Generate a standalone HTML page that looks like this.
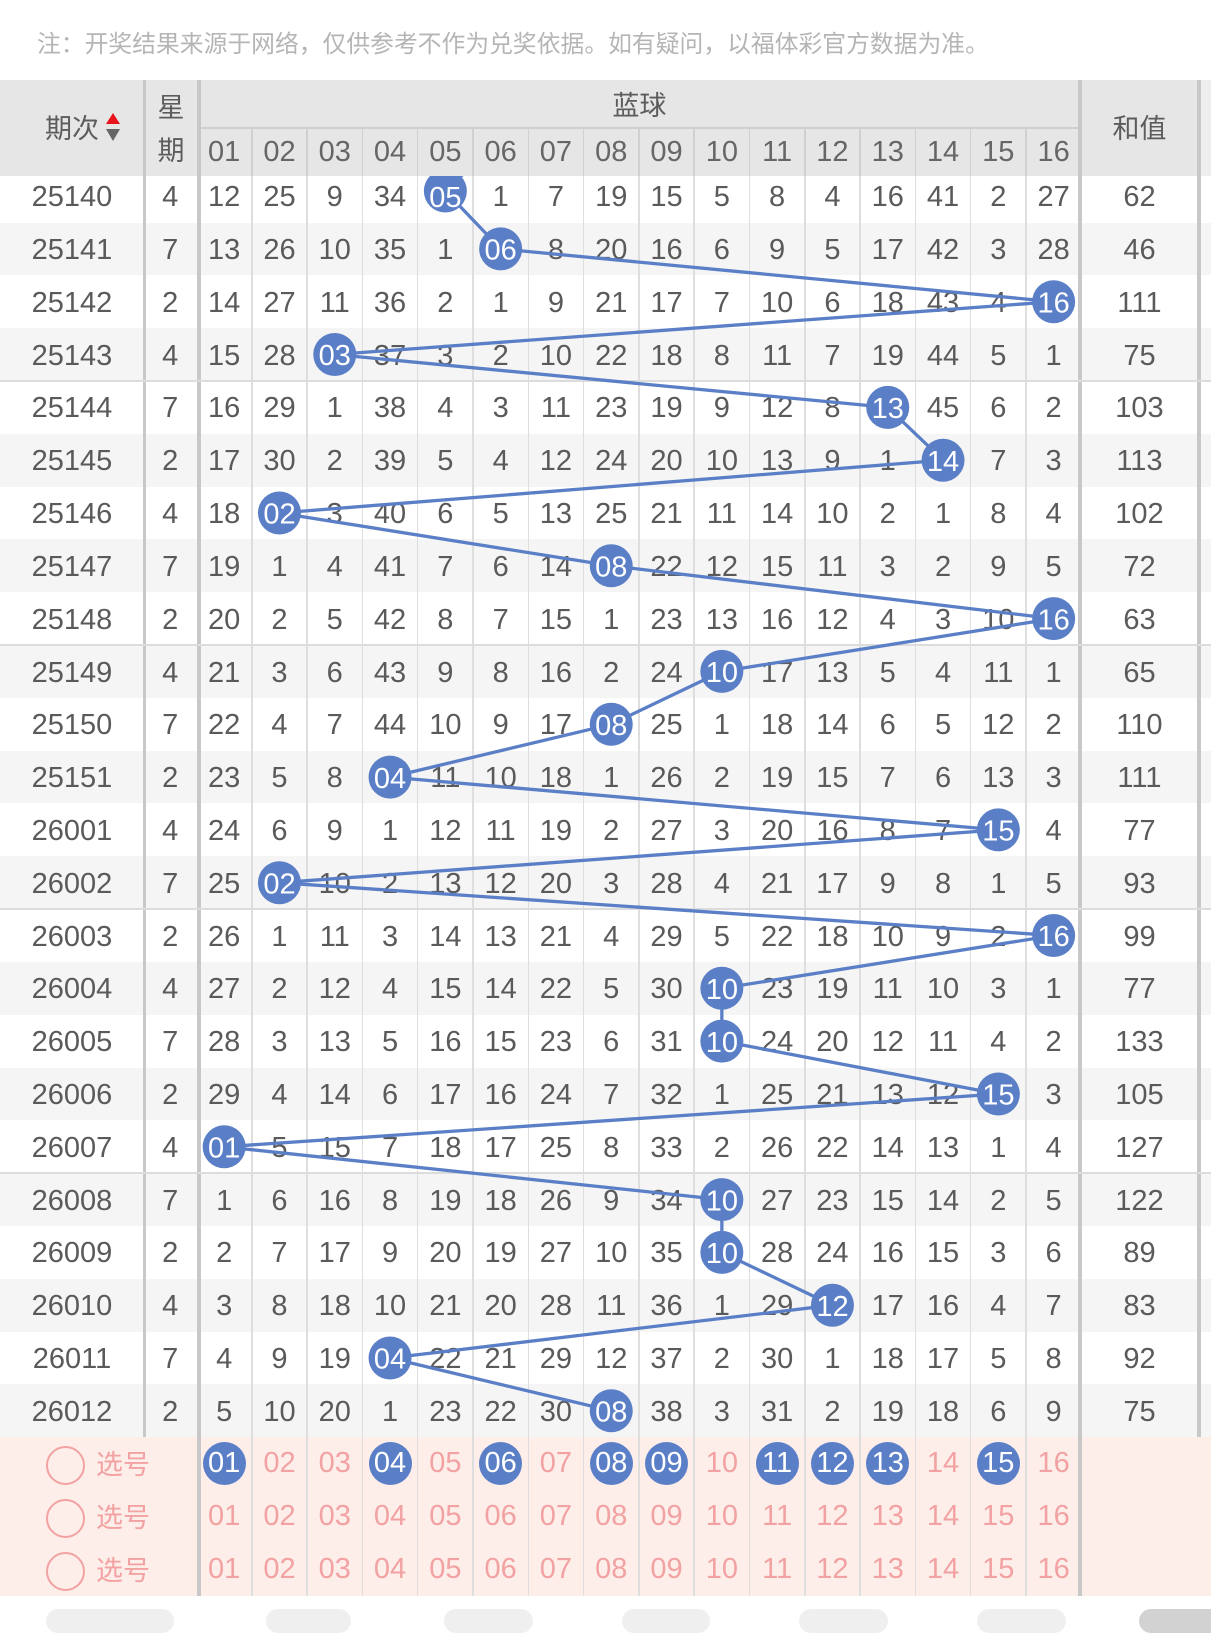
<!DOCTYPE html>
<html><head><meta charset="utf-8"><style>
*{margin:0;padding:0;box-sizing:border-box}
body{width:1211px;height:1613px;overflow:hidden;background:#fff;position:relative;font-family:"Liberation Sans","Noto Sans CJK SC",sans-serif}
.note{position:absolute;left:37px;top:27px;font-size:23.8px;line-height:30px;color:#b5b5b5;white-space:nowrap;font-family:"Noto Sans CJK SC",sans-serif}
#data{position:absolute;left:0;top:169.7px;width:1211px;z-index:1}
.r{height:52.815px;display:flex;font-size:29px;line-height:52.815px;color:#5a5a5a;background:#fff}
.r:nth-child(even){background:#f5f5f5}
.r i,.p i,.sh i{font-style:normal;display:block;width:55.3px;text-align:center;flex:none}
.r i{position:relative;top:1.5px}
.r i.a{width:144px}
.r i.b{width:52.5px}
.r i.s{width:116.4px}
.v{position:absolute;z-index:2;background:#c8c8c8}
.t{position:absolute;top:169px;height:1426.7px;width:1.5px;background:#dedede;z-index:2}
.h{position:absolute;left:0;width:1211px;height:2px;background:#dcdcdc;z-index:2}
#pk{position:absolute;left:0;top:1437.26px;width:1211px;height:158.4px;background:#fdeeea;z-index:1}
.p{height:52.8px;display:flex;font-size:29px;line-height:52.8px;color:#f2a2a2}
.p .k{width:196.5px;position:relative;flex:none}
.p .k:before{content:"";position:absolute;left:46px;top:8.9px;width:35px;height:35px;border:2px solid #f2a2a2;border-radius:50%}
.p .k span{position:absolute;left:96px;top:1px;font-size:27px;font-family:"Noto Sans CJK SC",sans-serif;line-height:50px;white-space:nowrap}
.p em{display:block;width:43px;height:43px;margin:4.9px auto 0;border-radius:50%;background:#5b7fc7;color:#fff;line-height:43px;font-style:normal}
#hd{position:absolute;left:0;top:80px;width:1211px;height:96px;background:#e6e6e6;z-index:4;color:#5c5c5c}
#hd .cj{position:absolute;font-size:27px;line-height:40px;font-family:"Noto Sans CJK SC",sans-serif;white-space:nowrap}
.sh{position:absolute;left:196.5px;top:48px;display:flex;font-size:29px;line-height:48px;color:#666}
.hv{position:absolute;top:48px;height:48px;width:1.5px;background:#d0d0d0}
.bt{position:absolute;top:1608.5px;height:24px;border-radius:12px;background:#efefef}
</style></head><body>
<div class="note">注：开奖结果来源于网络，仅供参考不作为兑奖依据。如有疑问，以福体彩官方数据为准。</div>

<div id="data">
<div class="r"><i class="a">25140</i><i class="b">4</i><i>12</i><i>25</i><i>9</i><i>34</i><i></i><i>1</i><i>7</i><i>19</i><i>15</i><i>5</i><i>8</i><i>4</i><i>16</i><i>41</i><i>2</i><i>27</i><i class="s">62</i></div>
<div class="r"><i class="a">25141</i><i class="b">7</i><i>13</i><i>26</i><i>10</i><i>35</i><i>1</i><i></i><i>8</i><i>20</i><i>16</i><i>6</i><i>9</i><i>5</i><i>17</i><i>42</i><i>3</i><i>28</i><i class="s">46</i></div>
<div class="r"><i class="a">25142</i><i class="b">2</i><i>14</i><i>27</i><i>11</i><i>36</i><i>2</i><i>1</i><i>9</i><i>21</i><i>17</i><i>7</i><i>10</i><i>6</i><i>18</i><i>43</i><i>4</i><i></i><i class="s">111</i></div>
<div class="r"><i class="a">25143</i><i class="b">4</i><i>15</i><i>28</i><i></i><i>37</i><i>3</i><i>2</i><i>10</i><i>22</i><i>18</i><i>8</i><i>11</i><i>7</i><i>19</i><i>44</i><i>5</i><i>1</i><i class="s">75</i></div>
<div class="r"><i class="a">25144</i><i class="b">7</i><i>16</i><i>29</i><i>1</i><i>38</i><i>4</i><i>3</i><i>11</i><i>23</i><i>19</i><i>9</i><i>12</i><i>8</i><i></i><i>45</i><i>6</i><i>2</i><i class="s">103</i></div>
<div class="r"><i class="a">25145</i><i class="b">2</i><i>17</i><i>30</i><i>2</i><i>39</i><i>5</i><i>4</i><i>12</i><i>24</i><i>20</i><i>10</i><i>13</i><i>9</i><i>1</i><i></i><i>7</i><i>3</i><i class="s">113</i></div>
<div class="r"><i class="a">25146</i><i class="b">4</i><i>18</i><i></i><i>3</i><i>40</i><i>6</i><i>5</i><i>13</i><i>25</i><i>21</i><i>11</i><i>14</i><i>10</i><i>2</i><i>1</i><i>8</i><i>4</i><i class="s">102</i></div>
<div class="r"><i class="a">25147</i><i class="b">7</i><i>19</i><i>1</i><i>4</i><i>41</i><i>7</i><i>6</i><i>14</i><i></i><i>22</i><i>12</i><i>15</i><i>11</i><i>3</i><i>2</i><i>9</i><i>5</i><i class="s">72</i></div>
<div class="r"><i class="a">25148</i><i class="b">2</i><i>20</i><i>2</i><i>5</i><i>42</i><i>8</i><i>7</i><i>15</i><i>1</i><i>23</i><i>13</i><i>16</i><i>12</i><i>4</i><i>3</i><i>10</i><i></i><i class="s">63</i></div>
<div class="r"><i class="a">25149</i><i class="b">4</i><i>21</i><i>3</i><i>6</i><i>43</i><i>9</i><i>8</i><i>16</i><i>2</i><i>24</i><i></i><i>17</i><i>13</i><i>5</i><i>4</i><i>11</i><i>1</i><i class="s">65</i></div>
<div class="r"><i class="a">25150</i><i class="b">7</i><i>22</i><i>4</i><i>7</i><i>44</i><i>10</i><i>9</i><i>17</i><i></i><i>25</i><i>1</i><i>18</i><i>14</i><i>6</i><i>5</i><i>12</i><i>2</i><i class="s">110</i></div>
<div class="r"><i class="a">25151</i><i class="b">2</i><i>23</i><i>5</i><i>8</i><i></i><i>11</i><i>10</i><i>18</i><i>1</i><i>26</i><i>2</i><i>19</i><i>15</i><i>7</i><i>6</i><i>13</i><i>3</i><i class="s">111</i></div>
<div class="r"><i class="a">26001</i><i class="b">4</i><i>24</i><i>6</i><i>9</i><i>1</i><i>12</i><i>11</i><i>19</i><i>2</i><i>27</i><i>3</i><i>20</i><i>16</i><i>8</i><i>7</i><i></i><i>4</i><i class="s">77</i></div>
<div class="r"><i class="a">26002</i><i class="b">7</i><i>25</i><i></i><i>10</i><i>2</i><i>13</i><i>12</i><i>20</i><i>3</i><i>28</i><i>4</i><i>21</i><i>17</i><i>9</i><i>8</i><i>1</i><i>5</i><i class="s">93</i></div>
<div class="r"><i class="a">26003</i><i class="b">2</i><i>26</i><i>1</i><i>11</i><i>3</i><i>14</i><i>13</i><i>21</i><i>4</i><i>29</i><i>5</i><i>22</i><i>18</i><i>10</i><i>9</i><i>2</i><i></i><i class="s">99</i></div>
<div class="r"><i class="a">26004</i><i class="b">4</i><i>27</i><i>2</i><i>12</i><i>4</i><i>15</i><i>14</i><i>22</i><i>5</i><i>30</i><i></i><i>23</i><i>19</i><i>11</i><i>10</i><i>3</i><i>1</i><i class="s">77</i></div>
<div class="r"><i class="a">26005</i><i class="b">7</i><i>28</i><i>3</i><i>13</i><i>5</i><i>16</i><i>15</i><i>23</i><i>6</i><i>31</i><i></i><i>24</i><i>20</i><i>12</i><i>11</i><i>4</i><i>2</i><i class="s">133</i></div>
<div class="r"><i class="a">26006</i><i class="b">2</i><i>29</i><i>4</i><i>14</i><i>6</i><i>17</i><i>16</i><i>24</i><i>7</i><i>32</i><i>1</i><i>25</i><i>21</i><i>13</i><i>12</i><i></i><i>3</i><i class="s">105</i></div>
<div class="r"><i class="a">26007</i><i class="b">4</i><i></i><i>5</i><i>15</i><i>7</i><i>18</i><i>17</i><i>25</i><i>8</i><i>33</i><i>2</i><i>26</i><i>22</i><i>14</i><i>13</i><i>1</i><i>4</i><i class="s">127</i></div>
<div class="r"><i class="a">26008</i><i class="b">7</i><i>1</i><i>6</i><i>16</i><i>8</i><i>19</i><i>18</i><i>26</i><i>9</i><i>34</i><i></i><i>27</i><i>23</i><i>15</i><i>14</i><i>2</i><i>5</i><i class="s">122</i></div>
<div class="r"><i class="a">26009</i><i class="b">2</i><i>2</i><i>7</i><i>17</i><i>9</i><i>20</i><i>19</i><i>27</i><i>10</i><i>35</i><i></i><i>28</i><i>24</i><i>16</i><i>15</i><i>3</i><i>6</i><i class="s">89</i></div>
<div class="r"><i class="a">26010</i><i class="b">4</i><i>3</i><i>8</i><i>18</i><i>10</i><i>21</i><i>20</i><i>28</i><i>11</i><i>36</i><i>1</i><i>29</i><i></i><i>17</i><i>16</i><i>4</i><i>7</i><i class="s">83</i></div>
<div class="r"><i class="a">26011</i><i class="b">7</i><i>4</i><i>9</i><i>19</i><i></i><i>22</i><i>21</i><i>29</i><i>12</i><i>37</i><i>2</i><i>30</i><i>1</i><i>18</i><i>17</i><i>5</i><i>8</i><i class="s">92</i></div>
<div class="r"><i class="a">26012</i><i class="b">2</i><i>5</i><i>10</i><i>20</i><i>1</i><i>23</i><i>22</i><i>30</i><i></i><i>38</i><i>3</i><i>31</i><i>2</i><i>19</i><i>18</i><i>6</i><i>9</i><i class="s">75</i></div>
</div>

<div id="pk">
<div class="p"><div class="k"><span>选号</span></div><i><em>01</em></i><i>02</i><i>03</i><i><em>04</em></i><i>05</i><i><em>06</em></i><i>07</i><i><em>08</em></i><i><em>09</em></i><i>10</i><i><em>11</em></i><i><em>12</em></i><i><em>13</em></i><i>14</i><i><em>15</em></i><i>16</i></div>
<div class="p"><div class="k"><span>选号</span></div><i>01</i><i>02</i><i>03</i><i>04</i><i>05</i><i>06</i><i>07</i><i>08</i><i>09</i><i>10</i><i>11</i><i>12</i><i>13</i><i>14</i><i>15</i><i>16</i></div>
<div class="p"><div class="k"><span>选号</span></div><i>01</i><i>02</i><i>03</i><i>04</i><i>05</i><i>06</i><i>07</i><i>08</i><i>09</i><i>10</i><i>11</i><i>12</i><i>13</i><i>14</i><i>15</i><i>16</i></div>
</div>

<div class="v" style="left:143px;top:169px;width:3px;height:1268.3px"></div>
<div class="v" style="left:197px;top:169px;width:4px;height:1426.7px"></div>
<div class="v" style="left:1077.7px;top:169px;width:4px;height:1426.7px"></div>
<div class="v" style="left:1197.3px;top:169px;width:3.7px;height:1268.3px"></div>
<div class="t" style="left:251.05px"></div>
<div class="t" style="left:306.35px"></div>
<div class="t" style="left:361.65px"></div>
<div class="t" style="left:416.95px"></div>
<div class="t" style="left:472.25px"></div>
<div class="t" style="left:527.55px"></div>
<div class="t" style="left:582.85px"></div>
<div class="t" style="left:638.15px"></div>
<div class="t" style="left:693.45px"></div>
<div class="t" style="left:748.75px"></div>
<div class="t" style="left:804.05px"></div>
<div class="t" style="left:859.35px"></div>
<div class="t" style="left:914.65px"></div>
<div class="t" style="left:969.95px"></div>
<div class="t" style="left:1025.25px"></div>
<div class="h" style="top:380px"></div>
<div class="h" style="top:644px"></div>
<div class="h" style="top:908.1px"></div>
<div class="h" style="top:1172.2px"></div>

<svg style="position:absolute;left:0;top:0;z-index:3" width="1211" height="1613" viewBox="0 0 1211 1613">
<polyline fill="none" stroke="#5b7fc7" stroke-width="3.3" stroke-linejoin="round" points="500.65,138.2 445.35,191 500.65,248.9 1053.65,301.7 334.75,354.5 887.75,407.4 943.05,460.2 279.45,513 611.25,565.8 1053.65,618.6 721.85,671.4 611.25,724.3 390.05,777.1 998.35,829.9 279.45,882.7 1053.65,935.5 721.85,988.3 721.85,1041.1 998.35,1094 224.15,1146.8 721.85,1199.6 721.85,1252.4 832.45,1305.2 390.05,1358 611.25,1410.8"/>
<g fill="#5b7fc7">
<circle cx="445.35" cy="191" r="21.5"/>
<circle cx="500.65" cy="248.9" r="21.5"/>
<circle cx="1053.65" cy="301.7" r="21.5"/>
<circle cx="334.75" cy="354.5" r="21.5"/>
<circle cx="887.75" cy="407.4" r="21.5"/>
<circle cx="943.05" cy="460.2" r="21.5"/>
<circle cx="279.45" cy="513" r="21.5"/>
<circle cx="611.25" cy="565.8" r="21.5"/>
<circle cx="1053.65" cy="618.6" r="21.5"/>
<circle cx="721.85" cy="671.4" r="21.5"/>
<circle cx="611.25" cy="724.3" r="21.5"/>
<circle cx="390.05" cy="777.1" r="21.5"/>
<circle cx="998.35" cy="829.9" r="21.5"/>
<circle cx="279.45" cy="882.7" r="21.5"/>
<circle cx="1053.65" cy="935.5" r="21.5"/>
<circle cx="721.85" cy="988.3" r="21.5"/>
<circle cx="721.85" cy="1041.1" r="21.5"/>
<circle cx="998.35" cy="1094" r="21.5"/>
<circle cx="224.15" cy="1146.8" r="21.5"/>
<circle cx="721.85" cy="1199.6" r="21.5"/>
<circle cx="721.85" cy="1252.4" r="21.5"/>
<circle cx="832.45" cy="1305.2" r="21.5"/>
<circle cx="390.05" cy="1358" r="21.5"/>
<circle cx="611.25" cy="1410.8" r="21.5"/>
</g>
<g fill="#fff" font-family="Liberation Sans, sans-serif" font-size="29" text-anchor="middle">
<text x="445.35" y="206.8">05</text>
<text x="500.65" y="259.6">06</text>
<text x="1053.65" y="312.4">16</text>
<text x="334.75" y="365.2">03</text>
<text x="887.75" y="418.1">13</text>
<text x="943.05" y="470.9">14</text>
<text x="279.45" y="523.7">02</text>
<text x="611.25" y="576.5">08</text>
<text x="1053.65" y="629.3">16</text>
<text x="721.85" y="682.1">10</text>
<text x="611.25" y="735">08</text>
<text x="390.05" y="787.8">04</text>
<text x="998.35" y="840.6">15</text>
<text x="279.45" y="893.4">02</text>
<text x="1053.65" y="946.2">16</text>
<text x="721.85" y="999">10</text>
<text x="721.85" y="1051.8">10</text>
<text x="998.35" y="1104.7">15</text>
<text x="224.15" y="1157.5">01</text>
<text x="721.85" y="1210.3">10</text>
<text x="721.85" y="1263.1">10</text>
<text x="832.45" y="1315.9">12</text>
<text x="390.05" y="1368.7">04</text>
<text x="611.25" y="1421.5">08</text>
</g>
</svg>

<div id="hd">
<div style="position:absolute;left:1201px;top:0;width:10px;height:96px;background:#eeeeee"></div>
<div class="cj" style="left:45px;top:27.2px">期次</div>
<div style="position:absolute;left:106px;top:33.3px;width:0;height:0;border-left:7px solid transparent;border-right:7px solid transparent;border-bottom:11.7px solid #e8141c"></div>
<div style="position:absolute;left:106px;top:49.3px;width:0;height:0;border-left:7px solid transparent;border-right:7px solid transparent;border-top:12px solid #666"></div>
<div class="cj" style="left:144px;width:54px;text-align:center;top:6px">星</div>
<div class="cj" style="left:144px;width:54px;text-align:center;top:48.5px">期</div>
<div class="cj" style="left:201px;width:876.7px;text-align:center;top:3.5px">蓝球</div>
<div class="cj" style="left:1081.7px;width:115.6px;text-align:center;top:26.8px">和值</div>
<div style="position:absolute;left:201px;top:47px;width:876.7px;height:2px;background:#cfcfcf"></div>
<div class="sh"><i>01</i><i>02</i><i>03</i><i>04</i><i>05</i><i>06</i><i>07</i><i>08</i><i>09</i><i>10</i><i>11</i><i>12</i><i>13</i><i>14</i><i>15</i><i>16</i></div>
<div class="hv" style="left:251.05px"></div>
<div class="hv" style="left:306.35px"></div>
<div class="hv" style="left:361.65px"></div>
<div class="hv" style="left:416.95px"></div>
<div class="hv" style="left:472.25px"></div>
<div class="hv" style="left:527.55px"></div>
<div class="hv" style="left:582.85px"></div>
<div class="hv" style="left:638.15px"></div>
<div class="hv" style="left:693.45px"></div>
<div class="hv" style="left:748.75px"></div>
<div class="hv" style="left:804.05px"></div>
<div class="hv" style="left:859.35px"></div>
<div class="hv" style="left:914.65px"></div>
<div class="hv" style="left:969.95px"></div>
<div class="hv" style="left:1025.25px"></div>
<div class="v" style="left:143px;top:0;width:3px;height:96px"></div>
<div class="v" style="left:197px;top:0;width:4px;height:96px"></div>
<div class="v" style="left:1077.7px;top:0;width:4px;height:96px"></div>
<div class="v" style="left:1197.3px;top:0;width:3.7px;height:96px"></div>
</div>

<div class="bt" style="left:46px;width:128px"></div>
<div class="bt" style="left:266px;width:85px"></div>
<div class="bt" style="left:444px;width:89px"></div>
<div class="bt" style="left:622px;width:88px"></div>
<div class="bt" style="left:799px;width:89px"></div>
<div class="bt" style="left:977px;width:89px"></div>
<div class="bt" style="left:1139px;width:90px;background:#d2d2d2"></div>
</body></html>
